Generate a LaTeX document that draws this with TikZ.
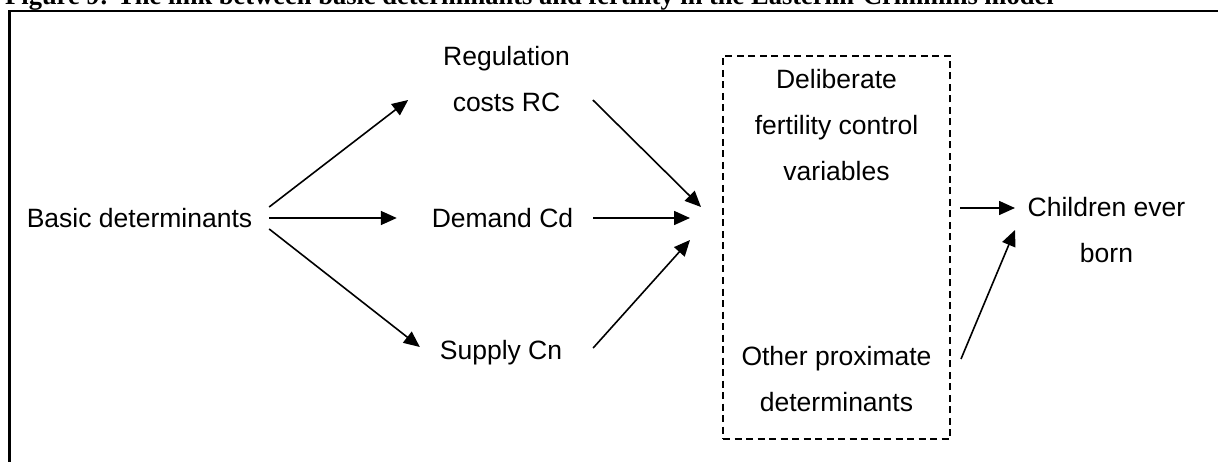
\documentclass[tikz,border=0pt]{standalone}
\usepackage{fontspec}
\setmainfont{Liberation Sans}
\newfontfamily\titlefont{Liberation Serif}
\usetikzlibrary{arrows.meta}
\begin{document}
\begin{tikzpicture}[x=1pt,y=-1pt,
  lbl/.style={inner sep=0pt,outer sep=0pt,font=\fontsize{26.5}{46}\selectfont,align=center,anchor=base},
  arr/.style={line width=1.6pt,-{Triangle[length=16pt,width=14pt]}},
  frameline/.style={line width=2.4pt},
  dashbox/.style={draw,line width=1.6pt,dash pattern=on 7pt off 4.5pt,inner sep=0pt,outer sep=0pt,minimum width=227pt,minimum height=383pt}]
\useasboundingbox (0,0) rectangle (1218,462);
\node[anchor=base west,inner sep=0pt,font=\titlefont\bfseries\fontsize{26.5}{30}\selectfont] (title) at (5,5) {Figure 9: The link between basic determinants and fertility in the Easterlin-Crimmins model};
\draw[frameline] (9.5,470) -- (9.5,11) -- (1230,11);
\node[lbl] (basic) at (139.5,228) {Basic determinants};
\node[lbl] (reg) at (506.5,112) {Regulation\\costs RC};
\node[lbl] (demand) at (502.5,228) {Demand Cd};
\node[lbl] (supply) at (501,359) {Supply Cn};
\node[dashbox] (box) at (836.5,247.5) {};
\node[lbl] (delib) at (836.5,181) {Deliberate\\fertility control\\variables};
\node[lbl] (other) at (836.5,411) {Other proximate\\determinants};
\node[lbl] (children) at (1106.5,263) {Children ever\\born};
\draw[arr] ([shift={(17,-21)}]basic.base east) -- ([shift={(-35,-12)}]reg.base west);
\draw[arr] ([shift={(17,-10)}]basic.base east) -- ([shift={(-35,-10)}]demand.base west);
\draw[arr] ([shift={(17,1)}]basic.base east) -- ([shift={(-20,-12)}]supply.base west);
\draw[arr] ([shift={(23,-12)}]reg.base east) -- ([shift={(-22,-40.5)}]box.west);
\draw[arr] ([shift={(20,-10)}]demand.base east) -- ([shift={(-33,-29.5)}]box.west);
\draw[arr] ([shift={(31,-11)}]supply.base east) -- ([shift={(-33,-7.5)}]box.west);
\draw[arr] ([shift={(10,-39.5)}]box.east) -- ([shift={(-12.7,-55)}]children.base west);
\draw[arr] ([shift={(29.5,-52)}]other.base east) -- ([shift={(-12.7,-33)}]children.base west);
\end{tikzpicture}
\end{document}
